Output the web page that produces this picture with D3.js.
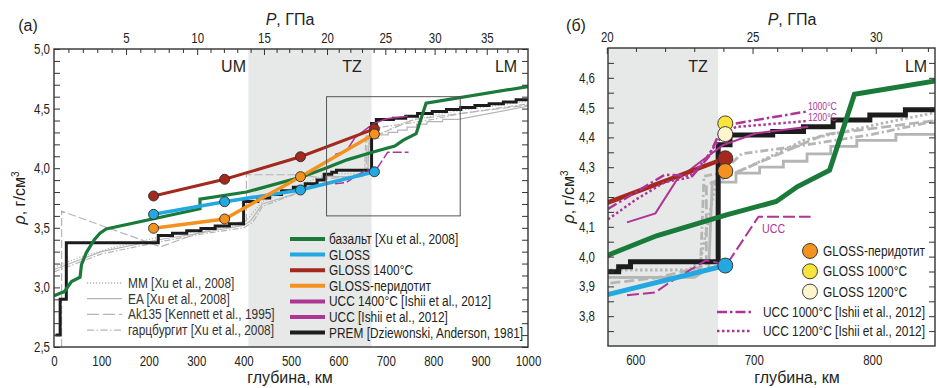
<!DOCTYPE html>
<html>
<head>
<meta charset="utf-8">
<script src="https://cdn.jsdelivr.net/npm/d3@7"></script>
<style>
  body { margin: 0; background: #fff; }
  svg { display: block; font-family: "Liberation Sans", Arial, sans-serif; }
</style>
</head>
<body>
<svg id="chart" width="937" height="388"></svg>
<script>
// ---- шкалы и подписи ----
const depthTicksL = [0, 100, 200, 300, 400, 500, 600, 700, 800, 900, 1000]
const depthTicksR = [600, 700, 800]
const rhoTicksL = [2.5, 3.0, 3.5, 4.0, 4.5, 5.0]
const rhoTicksR = [3.8, 3.9, 4.0, 4.1, 4.2, 4.3, 4.4, 4.5, 4.6]
const pressureTicksL = [5, 10, 15, 20, 25, 30, 35]
const pressureTicksR = [20, 25, 30]
// давление (ГПа) -> глубина (км), как на верхней шкале
const pressureGPa = [0, 5, 10, 15, 20, 25, 30, 35, 40]
const pressureDepth = [0, 152, 302, 443, 576, 699, 803, 913, 1022]
const tzDepth = [410, 670]
const insetDepth = [575, 857]
const insetRho = [3.6, 4.6]

// ---- данные ----
const basaltDepth = [0, 22, 30, 37, 55, 58, 68, 85, 97, 110, 308, 308, 406, 526, 577, 618, 677, 719, 737, 764, 785, 1000]
const basaltRho = [2.93, 2.965, 3.01, 3.05, 3.085, 3.19, 3.29, 3.40, 3.455, 3.49, 3.66, 3.74, 3.80, 3.93, 4.005, 4.07, 4.14, 4.185, 4.235, 4.29, 4.545, 4.685]

const glossDepth = [210, 360, 520, 676]
const glossRho = [3.613, 3.719, 3.817, 3.97]
const gloss1400Rho = [3.767, 3.907, 4.096, 4.33]
const glossPeridRho = [3.496, 3.574, 3.929, 4.287]
const gloss1000Depth = [676]
const gloss1000Rho = [4.447]
const gloss1200Rho = [4.411]

const ucc1400Depth = [593, 617, 635, 657, 674, 702, 746]
const ucc1400Rho = [4.115, 4.145, 4.257, 4.324, 4.374, 4.414, 4.436]
const uccDepth = [593, 617, 630, 660, 677, 704, 748]
const uccRho = [3.87, 3.88, 3.916, 3.988, 3.972, 4.134, 4.134]
const ucc1000Depth = [577, 600, 625, 648, 662, 674, 685, 745]
const ucc1000Rho = [4.16, 4.215, 4.275, 4.27, 4.335, 4.44, 4.447, 4.487]
const ucc1200Depth = [577, 600, 625, 645, 658, 674, 685, 745]
const ucc1200Rho = [4.125, 4.19, 4.25, 4.265, 4.32, 4.41, 4.435, 4.455]

const premDepth = [3, 13, 26, 220, 250, 280, 310, 340, 370, 400, 430, 455, 480, 505, 530, 555, 570, 586, 596, 670, 680, 716, 742, 767, 798, 828, 858, 888, 918, 948, 975, 1000]
const premRho = [2.6, 2.9, 3.375, 3.435, 3.455, 3.475, 3.495, 3.515, 3.535, 3.72, 3.75, 3.78, 3.81, 3.84, 3.87, 3.90, 3.949, 3.966, 3.983, 4.375, 4.408, 4.42, 4.436, 4.458, 4.475, 4.493, 4.51, 4.525, 4.54, 4.555, 4.575, 4.585]

const mmDepth = [0, 60, 120, 220, 300, 400, 410, 440, 520, 577, 645, 655, 668, 690, 742, 800, 853, 1000]
const mmRho = [3.17, 3.26, 3.33, 3.42, 3.47, 3.53, 3.58, 3.72, 3.86, 3.955, 3.955, 3.985, 4.25, 4.29, 4.39, 4.44, 4.483, 4.56]
const eaDepth = [0, 100, 220, 300, 400, 415, 440, 520, 577, 650, 662, 665, 685, 685, 705, 705, 725, 725, 745, 745, 765, 765, 787, 787, 820, 820, 853, 1000]
const eaRho = [3.15, 3.30, 3.40, 3.45, 3.52, 3.56, 3.70, 3.80, 3.93, 3.93, 3.96, 4.25, 4.25, 4.28, 4.28, 4.30, 4.30, 4.32, 4.32, 4.345, 4.345, 4.37, 4.37, 4.39, 4.39, 4.41, 4.41, 4.52]
const ak135Depth = [16, 16, 225, 300, 406, 406, 520, 577, 620, 660, 660, 760, 1000]
const ak135Rho = [2.5, 3.64, 3.34, 3.45, 3.56, 3.945, 3.945, 3.91, 3.93, 3.97, 4.24, 4.41, 4.53]
const harzDepth = [0, 100, 220, 300, 400, 420, 440, 520, 577, 640, 655, 658, 672, 690, 745, 800, 853, 1000]
const harzRho = [3.13, 3.28, 3.38, 3.44, 3.50, 3.55, 3.68, 3.80, 3.93, 3.93, 3.96, 4.27, 4.28, 4.345, 4.375, 4.41, 4.455, 4.54]

// ---- цвета ----
const green = '#1a7a3a', blue = '#23a8e0', red = '#a3281e', orange = '#f3921e'
const magenta = '#ae3596', black = '#1c1c1c', gray = '#b5b5b5', shade = '#e7e9e9'
const ink = '#231f20'
const NARROW = 0.82

// w: [толщина слева, толщина справа], 0 - не рисуется
const series = [
  { depth: mmDepth, rho: mmRho, color: gray, w: [1.2, 2.8], dash: ['1.2,1.8', '2.5,2.5'] },
  { depth: eaDepth, rho: eaRho, color: gray, w: [1.2, 2.8] },
  { depth: ak135Depth, rho: ak135Rho, color: gray, w: [1.2, 2.8], dash: ['8,3', '10,4'] },
  { depth: harzDepth, rho: harzRho, color: gray, w: [1.2, 2.8], dash: ['6,2,1.5,2', '8,3,2,3'] },
  { depth: premDepth, rho: premRho, color: black, w: [3, 5], step: true },
  { depth: ucc1400Depth, rho: ucc1400Rho, color: magenta, w: [1.5, 2] },
  { depth: uccDepth, rho: uccRho, color: magenta, w: [1.5, 2], dash: ['9,3', '12,4'] },
  { depth: basaltDepth, rho: basaltRho, color: green, w: [3.2, 5] },
  { depth: glossDepth, rho: glossRho, color: blue, w: [3.5, 5] },
  { depth: glossDepth, rho: glossPeridRho, color: orange, w: [3.5, 0] },
  { depth: glossDepth, rho: gloss1400Rho, color: red, w: [3, 4.5] },
  { depth: ucc1000Depth, rho: ucc1000Rho, color: magenta, w: [0, 2.5], dash: [null, '10,3,2.5,3'] },
  { depth: ucc1200Depth, rho: ucc1200Rho, color: magenta, w: [0, 2.5], dash: [null, '2.5,2.5'] }
]

const points = [
  { depth: glossDepth, rho: glossRho, fill: blue, panels: [1, 1] },
  { depth: glossDepth, rho: gloss1400Rho, fill: red, panels: [1, 1] },
  { depth: glossDepth, rho: glossPeridRho, fill: orange, panels: [1, 1] },
  { depth: gloss1000Depth, rho: gloss1000Rho, fill: '#f8e43a', panels: [0, 1] },
  { depth: gloss1000Depth, rho: gloss1200Rho, fill: '#fff5cc', panels: [0, 1] }
]

const svg = d3.select('#chart')
const comma = d => d3.format('.1f')(d).replace('.', ',')

function narrowText(sel) {
  sel.each(function () {
    const t = d3.select(this)
    t.attr('x', (+t.attr('x') || 0) / NARROW).attr('transform', `scale(${NARROW},1)`)
  })
}

function label(x, y, str, o = {}) {
  let tr = `translate(${x},${y})`
  if (o.rotate) tr += ` rotate(${o.rotate})`
  if (o.narrow) tr += ` scale(${NARROW},1)`
  return svg.append('text')
    .attr('transform', tr)
    .attr('text-anchor', o.anchor || 'start')
    .style('font-size', (o.size || 14) + 'px')
    .style('fill', o.color || ink)
    .text(str)
}

function styleAxis(a, size) {
  a.select('.domain').remove()
  a.attr('font-family', null).attr('font-size', null).attr('color', '#333')
  a.selectAll('line').attr('stroke-width', 1)
  a.selectAll('text').style('font-size', size + 'px').style('fill', ink).call(narrowText)
}

function drawPanel(p) {
  const { x, y, idx } = p
  const [x0, x1] = x.range()
  const [yb, yt] = y.range()
  const clipId = 'clip' + idx

  svg.append('clipPath').attr('id', clipId).append('rect')
    .attr('x', x0).attr('y', yt).attr('width', x1 - x0).attr('height', yb - yt)

  const g = svg.append('g')
  const plot = g.append('g').attr('clip-path', `url(#${clipId})`)

  // переходная зона
  plot.append('rect')
    .attr('x', x(tzDepth[0])).attr('y', yt)
    .attr('width', x(tzDepth[1]) - x(tzDepth[0])).attr('height', yb - yt)
    .attr('fill', shade)

  series.forEach(s => {
    const w = s.w[idx]
    if (!w) return
    const line = d3.line()
      .x(d => x(d[0]))
      .y(d => y(d[1]))
      .curve(s.step ? d3.curveStepAfter : d3.curveLinear)
    plot.append('path')
      .datum(d3.zip(s.depth, s.rho))
      .attr('d', line)
      .attr('fill', 'none')
      .attr('stroke', s.color)
      .attr('stroke-width', w)
      .attr('stroke-dasharray', s.dash ? s.dash[idx] : null)
  })

  points.forEach(s => {
    if (!s.panels[idx]) return
    plot.selectAll(null)
      .data(d3.zip(s.depth, s.rho))
      .enter().append('circle')
      .attr('cx', d => x(d[0]))
      .attr('cy', d => y(d[1]))
      .attr('r', p.r)
      .attr('fill', s.fill)
      .attr('stroke', '#2b2b2b')
      .attr('stroke-width', 0.9)
  })

  // рамка
  g.append('rect')
    .attr('x', x0).attr('y', yt).attr('width', x1 - x0).attr('height', yb - yt)
    .attr('fill', 'none').attr('stroke', '#333').attr('stroke-width', 1.4)

  // верхняя шкала давления
  const pDepth = d3.scaleLinear().domain(pressureGPa).range(pressureDepth)
  const pX = d3.scaleLinear().domain(pressureGPa).range(pressureDepth.map(x))
  const [dmin, dmax] = x.domain()
  const pMinor = d3.range(1, 40).filter(v => pDepth(v) > dmin && pDepth(v) < dmax && v % 5)
  g.append('g').attr('transform', `translate(0,${yt})`)
    .call(d3.axisTop(pX).tickValues(pMinor).tickSizeInner(-4).tickSizeOuter(0).tickFormat(''))
    .call(a => styleAxis(a, 14))
  g.append('g').attr('transform', `translate(0,${yt})`)
    .call(d3.axisTop(pX).tickValues(p.pTicks).tickSizeInner(-6).tickSizeOuter(0).tickPadding(6))
    .call(a => styleAxis(a, 14))

  // левая и правая шкалы плотности
  g.append('g').attr('transform', `translate(${x0},0)`)
    .call(d3.axisLeft(y).tickValues(p.rhoMinor).tickSizeInner(-6).tickSizeOuter(0).tickFormat(''))
    .call(a => styleAxis(a, 14))
  g.append('g').attr('transform', `translate(${x0},0)`)
    .call(d3.axisLeft(y).tickValues(p.rhoTicks).tickSizeInner(0).tickSizeOuter(0).tickPadding(p.yPad).tickFormat(comma))
    .call(a => styleAxis(a, 14))
  g.append('g').attr('transform', `translate(${x1},0)`)
    .call(d3.axisRight(y).tickValues(p.rhoMinor).tickSizeInner(-6).tickSizeOuter(0).tickFormat(''))
    .call(a => styleAxis(a, 14))

  // нижняя шкала глубины
  g.append('g').attr('transform', `translate(0,${yb})`)
    .call(d3.axisBottom(x).tickValues(p.depthTicks).tickSize(0).tickPadding(9.5).tickFormat(d3.format('d')))
    .call(a => styleAxis(a, 14))

  // подписи осей
  const pt = svg.append('text').attr('x', p.topTitleX).attr('y', 25)
    .attr('text-anchor', 'middle').style('font-size', '16px').style('fill', ink)
  pt.append('tspan').style('font-style', 'italic').text('P')
  pt.append('tspan').text(', ГПа')

  label(p.bottomTitleX, 383, 'глубина, км', { anchor: 'middle', size: 16 })

  const yl = svg.append('text')
    .attr('transform', `translate(${p.yTitleX},${(yb + yt) / 2}) rotate(-90)`)
    .attr('text-anchor', 'middle').style('font-size', '16px').style('fill', ink)
  yl.append('tspan').style('font-style', 'italic').text('ρ')
  yl.append('tspan').text(',  г/см')
  yl.append('tspan').attr('dy', -6).style('font-size', '10px').text('3')

  label(p.panelX, 31, p.panelName, { anchor: 'middle', size: 16 })
  return g
}

const xL = d3.scaleLinear().domain([0, 1000]).range([54, 528])
const yL = d3.scaleLinear().domain([2.5, 5.0]).range([347, 49])
const xR = d3.scaleLinear().domain([577, 853]).range([608, 935])
const yR = d3.scaleLinear().domain([3.7, 4.7]).range([346, 48])

const gL = drawPanel({
  idx: 0, x: xL, y: yL, r: 5, pTicks: pressureTicksL,
  rhoTicks: rhoTicksL, rhoMinor: d3.range(25, 51).map(v => v / 10),
  depthTicks: depthTicksL, yPad: 4, yTitleX: 25, panelX: 28, panelName: '(a)',
  topTitleX: 290, bottomTitleX: 290
})
const gR = drawPanel({
  idx: 1, x: xR, y: yR, r: 7.5, pTicks: pressureTicksR,
  rhoTicks: rhoTicksR, rhoMinor: d3.range(75, 94).map(v => v / 20),
  depthTicks: depthTicksR, yPad: 13, yTitleX: 574, panelX: 576, panelName: '(б)',
  topTitleX: 792, bottomTitleX: 797
})

// рамка увеличенного фрагмента
gL.append('rect')
  .attr('x', xL(insetDepth[0])).attr('y', yL(insetRho[1]))
  .attr('width', xL(insetDepth[1]) - xL(insetDepth[0]))
  .attr('height', yL(insetRho[0]) - yL(insetRho[1]))
  .attr('fill', 'none').attr('stroke', '#555').attr('stroke-width', 1)

// зоны мантии
label(246, 72, 'UM', { anchor: 'end', size: 16 })
label(352, 72, 'TZ', { anchor: 'middle', size: 16 })
label(506, 72, 'LM', { anchor: 'middle', size: 16 })
label(698, 72, 'TZ', { anchor: 'middle', size: 16 })
label(916, 72, 'LM', { anchor: 'middle', size: 16 })

// подписи на правой панели
label(808, 109.5, '1000°C', { size: 10.5, color: magenta, narrow: true })
label(808, 120.5, '1200°C', { size: 10.5, color: magenta, narrow: true })
label(762, 233, 'UCC', { size: 13, color: magenta, narrow: true })

// ---- легенды ----
const legendMain = [
  { name: 'базальт [Xu et al., 2008]', color: green },
  { name: 'GLOSS', color: blue },
  { name: 'GLOSS 1400°C', color: red },
  { name: 'GLOSS-перидотит', color: orange },
  { name: 'UCC 1400°C [Ishii et al., 2012]', color: magenta },
  { name: 'UCC [Ishii et al., 2012]', color: magenta },
  { name: 'PREM [Dziewonski, Anderson, 1981]', color: black }
]
legendMain.forEach((d, i) => {
  const yy = 239 + i * 15.6
  svg.append('line').attr('x1', 290).attr('x2', 325).attr('y1', yy).attr('y2', yy)
    .attr('stroke', d.color).attr('stroke-width', 4)
  label(329, yy + 5, d.name, { narrow: true, size: 14.5 })
})

const legendGray = [
  { name: 'MM [Xu et al., 2008]', dash: '1.2,1.8' },
  { name: 'EA [Xu et al., 2008]', dash: null },
  { name: 'Ak135 [Kennett et al., 1995]', dash: '12,4' },
  { name: 'гарцбургит [Xu et al., 2008]', dash: '7,2.5,1.5,2.5' }
]
legendGray.forEach((d, i) => {
  const yy = 283 + i * 15.7
  svg.append('line').attr('x1', 87).attr('x2', 122).attr('y1', yy).attr('y2', yy)
    .attr('stroke', gray).attr('stroke-width', 1.3).attr('stroke-dasharray', d.dash)
  label(128, yy + 5, d.name, { narrow: true, size: 14.5, color: '#333' })
})

const legendDots = [
  { name: 'GLOSS-перидотит', fill: orange },
  { name: 'GLOSS 1000°C', fill: '#f8e43a' },
  { name: 'GLOSS 1200°C', fill: '#fff5cc' }
]
legendDots.forEach((d, i) => {
  const yy = 251 + i * 20.3
  svg.append('circle').attr('cx', 810).attr('cy', yy).attr('r', 7.5)
    .attr('fill', d.fill).attr('stroke', '#2b2b2b').attr('stroke-width', 0.9)
  label(823, yy + 5, d.name, { narrow: true, size: 14.5 })
})

const legendUcc = [
  { name: 'UCC 1000°C [Ishii et al., 2012]', dash: '10,3,2.5,3' },
  { name: 'UCC 1200°C [Ishii et al., 2012]', dash: '2.5,2.5' }
]
legendUcc.forEach((d, i) => {
  const yy = 312 + i * 19
  svg.append('line').attr('x1', 717).attr('x2', 752).attr('y1', yy).attr('y2', yy)
    .attr('stroke', magenta).attr('stroke-width', 2.5).attr('stroke-dasharray', d.dash)
  label(763, yy + 5, d.name, { narrow: true, size: 14.5 })
})
</script>
</body>
</html>
